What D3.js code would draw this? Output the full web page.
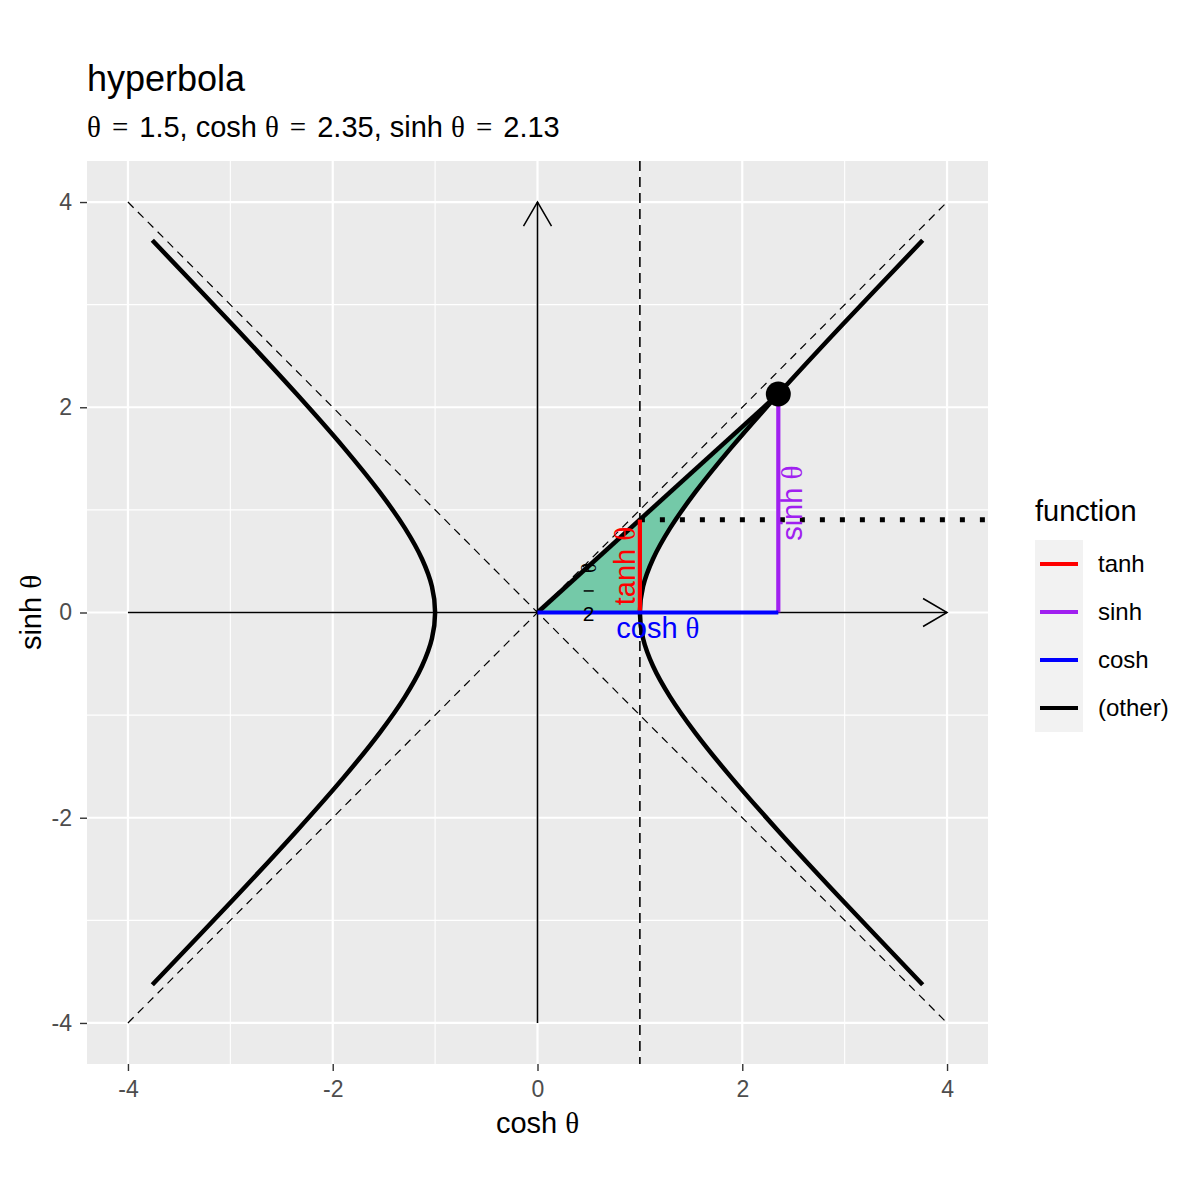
<!DOCTYPE html>
<html>
<head>
<meta charset="utf-8">
<script src="https://cdn.jsdelivr.net/npm/d3@7"></script>
<style>
  body { margin: 0; background: #fff; }
  text { font-family: "Liberation Sans", Arial, sans-serif; }
  .serif { font-family: "Liberation Serif", "DejaVu Serif", serif; }
</style>
</head>
<body>
<div id="chart"></div>
<script>
// ---- data ----
var thetaVal = 1.5, coshVal = 2.352, sinhVal = 2.129, tanhVal = 0.905;

// hyperbola points, t = -2 .. 2 by 0.25
var branchY  = [-3.627, -2.790, -2.129, -1.602, -1.175, -0.822, -0.521, -0.253, 0, 0.253, 0.521, 0.822, 1.175, 1.602, 2.129, 2.790, 3.627];
var rightX   = [3.762, 2.964, 2.352, 1.888, 1.543, 1.295, 1.128, 1.031, 1, 1.031, 1.128, 1.295, 1.543, 1.888, 2.352, 2.964, 3.762];
var leftX    = [-3.762, -2.964, -2.352, -1.888, -1.543, -1.295, -1.128, -1.031, -1, -1.031, -1.128, -1.295, -1.543, -1.888, -2.352, -2.964, -3.762];

// shaded sector: hyperbola from t = 1.5 back to t = 0
var sectorX = [2.352, 1.888, 1.543, 1.295, 1.128, 1.031, 1];
var sectorY = [2.129, 1.602, 1.175, 0.822, 0.521, 0.253, 0];

var tickVals = [-4, -2, 0, 2, 4];
var minorVals = [-3, -1, 1, 3];

var legendNames = ["tanh", "sinh", "cosh", "(other)"];
var legendColors = ["#FF0000", "#A020F0", "#0000FF", "#000000"];

// ---- layout ----
var W = 1200, H = 1200;
var panel = {left: 87, right: 988, top: 161, bottom: 1064};

var svg = d3.select("#chart").append("svg")
    .attr("width", W).attr("height", H);

var x = d3.scaleLinear().domain([-4.4, 4.4]).range([panel.left, panel.right]);
var y = d3.scaleLinear().domain([-4.4, 4.4]).range([panel.bottom, panel.top]);

// arrow marker
svg.append("defs").append("marker")
    .attr("id", "arr")
    .attr("markerUnits", "userSpaceOnUse")
    .attr("viewBox", "-30 -16 32 32")
    .attr("refX", 0).attr("refY", 0)
    .attr("markerWidth", 32).attr("markerHeight", 32)
    .attr("orient", "auto")
  .append("path")
    .attr("d", "M-24,-14L0,0L-24,14")
    .attr("fill", "none").attr("stroke", "#000").attr("stroke-width", 1.5);

// panel background
svg.append("rect")
    .attr("x", panel.left).attr("y", panel.top)
    .attr("width", panel.right - panel.left).attr("height", panel.bottom - panel.top)
    .attr("fill", "#EBEBEB");

// grid
var grid = svg.append("g");
minorVals.forEach(function(v) {
  grid.append("line").attr("x1", x(v)).attr("x2", x(v)).attr("y1", panel.top).attr("y2", panel.bottom)
      .attr("stroke", "#fff").attr("stroke-width", 1.1);
  grid.append("line").attr("y1", y(v)).attr("y2", y(v)).attr("x1", panel.left).attr("x2", panel.right)
      .attr("stroke", "#fff").attr("stroke-width", 1.1);
});
tickVals.forEach(function(v) {
  grid.append("line").attr("x1", x(v)).attr("x2", x(v)).attr("y1", panel.top).attr("y2", panel.bottom)
      .attr("stroke", "#fff").attr("stroke-width", 2.2);
  grid.append("line").attr("y1", y(v)).attr("y2", y(v)).attr("x1", panel.left).attr("x2", panel.right)
      .attr("stroke", "#fff").attr("stroke-width", 2.2);
});

var curve = d3.line().x(function(d) { return x(d[0]); }).y(function(d) { return y(d[1]); })
    .curve(d3.curveCatmullRom.alpha(0.5));

// shaded sector
var sectorPts = sectorX.map(function(v, i) { return [v, sectorY[i]]; });
var sectorPath = "M" + x(0) + "," + y(0) + "L" + curve(sectorPts).slice(1) + "Z";
svg.append("path")
    .attr("d", sectorPath)
    .attr("fill", "#74C9A8")
    .attr("stroke", "#0d3b28").attr("stroke-width", 1.2);

// asymptotes
[[[-4, -4], [4, 4]], [[-4, 4], [4, -4]]].forEach(function(seg) {
  svg.append("line")
      .attr("x1", x(seg[0][0])).attr("y1", y(seg[0][1]))
      .attr("x2", x(seg[1][0])).attr("y2", y(seg[1][1]))
      .attr("stroke", "#000").attr("stroke-width", 1.2).attr("stroke-dasharray", "8,6");
});

// vertical dashed line at x = 1
svg.append("line")
    .attr("x1", x(1)).attr("x2", x(1)).attr("y1", panel.top).attr("y2", panel.bottom)
    .attr("stroke", "#000").attr("stroke-width", 1.6).attr("stroke-dasharray", "10,6");

// axes with arrows
svg.append("line")
    .attr("x1", x(-4)).attr("y1", y(0)).attr("x2", x(4)).attr("y2", y(0))
    .attr("stroke", "#000").attr("stroke-width", 1.6).attr("marker-end", "url(#arr)");
svg.append("line")
    .attr("x1", x(0)).attr("y1", y(-4)).attr("x2", x(0)).attr("y2", y(4))
    .attr("stroke", "#000").attr("stroke-width", 1.6).attr("marker-end", "url(#arr)");

// hyperbola branches
[rightX, leftX].forEach(function(xs) {
  var pts = xs.map(function(v, i) { return [v, branchY[i]]; });
  svg.append("path").attr("d", curve(pts))
      .attr("fill", "none").attr("stroke", "#000").attr("stroke-width", 4.5);
});

// radius from origin to point
svg.append("line")
    .attr("x1", x(0)).attr("y1", y(0)).attr("x2", x(coshVal)).attr("y2", y(sinhVal))
    .attr("stroke", "#000").attr("stroke-width", 4.5);

// dotted tangent level
svg.append("line")
    .attr("x1", x(1)).attr("x2", panel.right).attr("y1", y(tanhVal)).attr("y2", y(tanhVal))
    .attr("stroke", "#000").attr("stroke-width", 5).attr("stroke-dasharray", "5,15");

// function segments
svg.append("line").attr("x1", x(1)).attr("x2", x(1)).attr("y1", y(0)).attr("y2", y(tanhVal))
    .attr("stroke", legendColors[0]).attr("stroke-width", 4.2);
svg.append("line").attr("x1", x(coshVal)).attr("x2", x(coshVal)).attr("y1", y(0)).attr("y2", y(sinhVal))
    .attr("stroke", legendColors[1]).attr("stroke-width", 4.2);
svg.append("line").attr("x1", x(0)).attr("x2", x(coshVal)).attr("y1", y(0)).attr("y2", y(0))
    .attr("stroke", legendColors[2]).attr("stroke-width", 4.2);

// point
svg.append("circle").attr("cx", x(coshVal)).attr("cy", y(sinhVal)).attr("r", 12.5).attr("fill", "#000");

// segment labels
function thetaLabel(g, name) {
  g.append("tspan").text(name + " ");
  g.append("tspan").attr("class", "serif").text("θ");
}
var tl = svg.append("text")
    .attr("transform", "translate(" + (x(1) - 5) + "," + y(tanhVal / 2) + ") rotate(-90)")
    .attr("text-anchor", "middle").attr("fill", legendColors[0]).style("font-size", "29px");
thetaLabel(tl, "tanh");
var sl = svg.append("text")
    .attr("transform", "translate(" + (x(coshVal) + 24) + "," + y(sinhVal / 2) + ") rotate(-90)")
    .attr("text-anchor", "middle").attr("fill", legendColors[1]).style("font-size", "29px");
thetaLabel(sl, "sinh");
var cl = svg.append("text")
    .attr("x", x(coshVal / 2)).attr("y", y(0) + 25)
    .attr("text-anchor", "middle").attr("fill", legendColors[2]).style("font-size", "29px");
thetaLabel(cl, "cosh");

// theta / 2 label
var fx = x(0.5), fy = y(0.21);
svg.append("text").attr("class", "serif")
    .attr("transform", "translate(" + fx + "," + (fy - 23) + ") rotate(-90)")
    .attr("text-anchor", "middle").attr("dy", "0.35em").style("font-size", "21px").text("θ");
svg.append("line").attr("x1", fx - 5).attr("x2", fx + 5).attr("y1", fy).attr("y2", fy)
    .attr("stroke", "#000").attr("stroke-width", 1.5);
svg.append("text").attr("x", fx).attr("y", fy + 30)
    .attr("text-anchor", "middle").style("font-size", "21px").text("2");

// axes ticks and labels
var xAxis = svg.append("g").attr("transform", "translate(0," + panel.bottom + ")")
    .call(d3.axisBottom(x).tickValues(tickVals).tickSize(7).tickPadding(10).tickFormat(d3.format("d")));
var yAxis = svg.append("g").attr("transform", "translate(" + panel.left + ",0)")
    .call(d3.axisLeft(y).tickValues(tickVals).tickSize(7).tickPadding(8).tickFormat(d3.format("d")));
[xAxis, yAxis].forEach(function(a) {
  a.select(".domain").remove();
  a.selectAll(".tick line").attr("stroke", "#333333").attr("stroke-width", 1.4);
  a.selectAll(".tick text").attr("fill", "#4D4D4D")
      .style("font-size", "23px").style("font-family", "Liberation Sans, Arial, sans-serif");
});
xAxis.selectAll(".tick text").text(function(d) { return d < 0 ? "-" + Math.abs(d) : d; });
yAxis.selectAll(".tick text").text(function(d) { return d < 0 ? "-" + Math.abs(d) : d; });

// axis titles
var xt = svg.append("text").attr("x", (panel.left + panel.right) / 2).attr("y", 1133)
    .attr("text-anchor", "middle").style("font-size", "29px");
thetaLabel(xt, "cosh");
var yt = svg.append("text")
    .attr("transform", "translate(41," + (panel.top + panel.bottom) / 2 + ") rotate(-90)")
    .attr("text-anchor", "middle").style("font-size", "29px");
thetaLabel(yt, "sinh");

// title and subtitle
svg.append("text").attr("x", 87).attr("y", 91).style("font-size", "36px").text("hyperbola");
var sub = svg.append("text").attr("x", 87).attr("y", 137).style("font-size", "29px");
var subParts = [["θ", true], ["=", true], [thetaVal + ", cosh", false], ["θ", true], ["=", true],
                [coshVal.toFixed(2) + ", sinh", false], ["θ", true], ["=", true], [sinhVal.toFixed(2), false]];
subParts.forEach(function(p, i) {
  sub.append("tspan").attr("class", p[1] ? "serif" : null)
      .attr("dx", i === 0 ? 0 : (p[0] === "=" || subParts[i - 1][0] === "=" ? 11 : 8))
      .text(p[0]);
});

// legend
var lg = svg.append("g").attr("transform", "translate(1035,0)");
lg.append("text").attr("x", 0).attr("y", 521).style("font-size", "29px").text("function");
lg.append("rect").attr("x", 0).attr("y", 540).attr("width", 48).attr("height", 192).attr("fill", "#F2F2F2");
legendNames.forEach(function(n, i) {
  var cy = 564 + i * 48;
  lg.append("line").attr("x1", 5).attr("x2", 43).attr("y1", cy).attr("y2", cy)
      .attr("stroke", legendColors[i]).attr("stroke-width", 4.2);
  lg.append("text").attr("x", 63).attr("y", cy).attr("dy", "0.35em")
      .style("font-size", "24px").text(n);
});
</script>
</body>
</html>
